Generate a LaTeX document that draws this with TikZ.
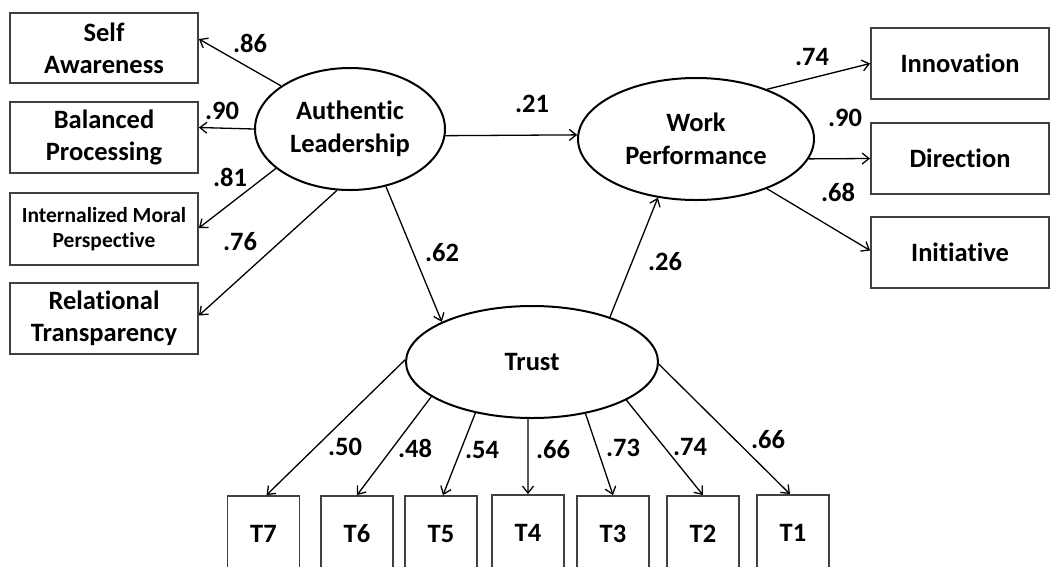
\documentclass[tikz,border=0pt]{standalone}
\usepackage{fontspec}
\setmainfont{Carlito}[Ligatures=NoCommon]
\usetikzlibrary{arrows.meta,shapes.geometric}
\begin{document}
\begin{tikzpicture}[x=1pt,y=-1pt,
  obs/.style={draw=black!75,line width=1.8pt,inner sep=0pt,align=center,
    font=\fontsize{26.5}{32}\selectfont\bfseries},
  lat/.style={ellipse,draw=black,line width=2pt,inner sep=0pt,align=center,
    font=\fontsize{26.5}{33}\selectfont\bfseries},
  arr/.style={line width=1.3pt,-{Straight Barb[length=7pt,width=11pt,line width=1.3pt]}},
  coef/.style={font=\fontsize{26.5}{30}\selectfont\bfseries,inner sep=0pt},
  lbox/.style={obs,minimum width=188pt,minimum height=71pt},
  rbox/.style={obs,minimum width=178pt,minimum height=71pt},
  tbox/.style={obs,minimum width=72pt,minimum height=76pt}]
\useasboundingbox (0,0) rectangle (1051,566);
\clip (0,0) rectangle (1051,566);
% left indicators
\node[lbox,minimum height=70pt] (sa) at (104,48) {Self\\Awareness};
\node[lbox] (bp) at (104,137.5) {Balanced\\Processing};
\node[lbox,minimum height=72pt,font=\fontsize{21.5}{25}\selectfont\bfseries] (imp) at (104,229) {Internalized Moral\\Perspective};
\node[lbox] (rt) at (104,318.5) {Relational\\Transparency};
% right indicators
\node[rbox] (inn) at (960,63.5) {Innovation};
\node[rbox] (dir) at (960,158.5) {Direction};
\node[rbox] (ini) at (960,252.5) {Initiative};
% trust indicators
\node[tbox] (t7) at (263.5,534) {T7};
\node[tbox] (t6) at (357,534) {T6};
\node[tbox] (t5) at (441,534) {T5};
\node[tbox] (t4) at (528,533) {T4};
\node[tbox] (t3) at (613,534) {T3};
\node[tbox] (t2) at (703,534) {T2};
\node[tbox] (t1) at (793,533) {T1};
% latent variables
\node[lat,minimum width=190pt,minimum height=122pt] (al) at (350,129) {Authentic\\Leadership};
\node[lat,minimum width=236pt,minimum height=122pt] (wp) at (696,139) {Work\\Performance};
\node[lat,minimum width=252pt,minimum height=112pt] (tr) at (532,362) {Trust};
% paths
\draw[arr] (al.148) -- ([yshift=9pt]sa.east);
\draw[arr] (al.180) -- ([yshift=10pt]bp.east);
\draw[arr] (al.208) -- ([yshift=1pt]imp.east);
\draw[arr] (al.258) -- ([yshift=3pt]rt.east);
\draw[arr] (al.356) -- (wp.178);
\draw[arr] (al.302) -- (tr.156);
\draw[arr] (tr.30) -- (wp.237);
\draw[arr] (wp.35) -- (inn.west);
\draw[arr] (wp.350) -- (dir.west);
\draw[arr] (wp.325) -- ([yshift=2pt]ini.west);
\draw[arr] (tr.179) -- ([xshift=3pt]t7.north);
\draw[arr] (tr.199) -- (t6.north);
\draw[arr] (tr.222) -- ([xshift=2pt]t5.north);
\draw[arr] (tr.266) -- (t4.north);
\draw[arr] (tr.316) -- (t3.north);
\draw[arr] (tr.338) -- (t2.north);
\draw[arr] (tr.359) -- ([xshift=-3pt]t1.north);
% coefficients
\node[coef] (c1) at (250,43) {.86};
\node[coef] (c2) at (222,111) {.90};
\node[coef] (c3) at (230,177) {.81};
\node[coef] (c4) at (240,242) {.76};
\node[coef] (c5) at (532,104) {.21};
\node[coef] (c6) at (442,253) {.62};
\node[coef] (c7) at (665,262) {.26};
\node[coef] (c8) at (812,57) {.74};
\node[coef] (c9) at (845,118) {.90};
\node[coef] (c10) at (838,192) {.68};
\node[coef] (c11) at (345,447) {.50};
\node[coef] (c12) at (415,448) {.48};
\node[coef] (c13) at (482,450) {.54};
\node[coef] (c14) at (553,450) {.66};
\node[coef] (c15) at (623,448) {.73};
\node[coef] (c16) at (690,447) {.74};
\node[coef] (c17) at (768,440) {.66};
\end{tikzpicture}
\end{document}
